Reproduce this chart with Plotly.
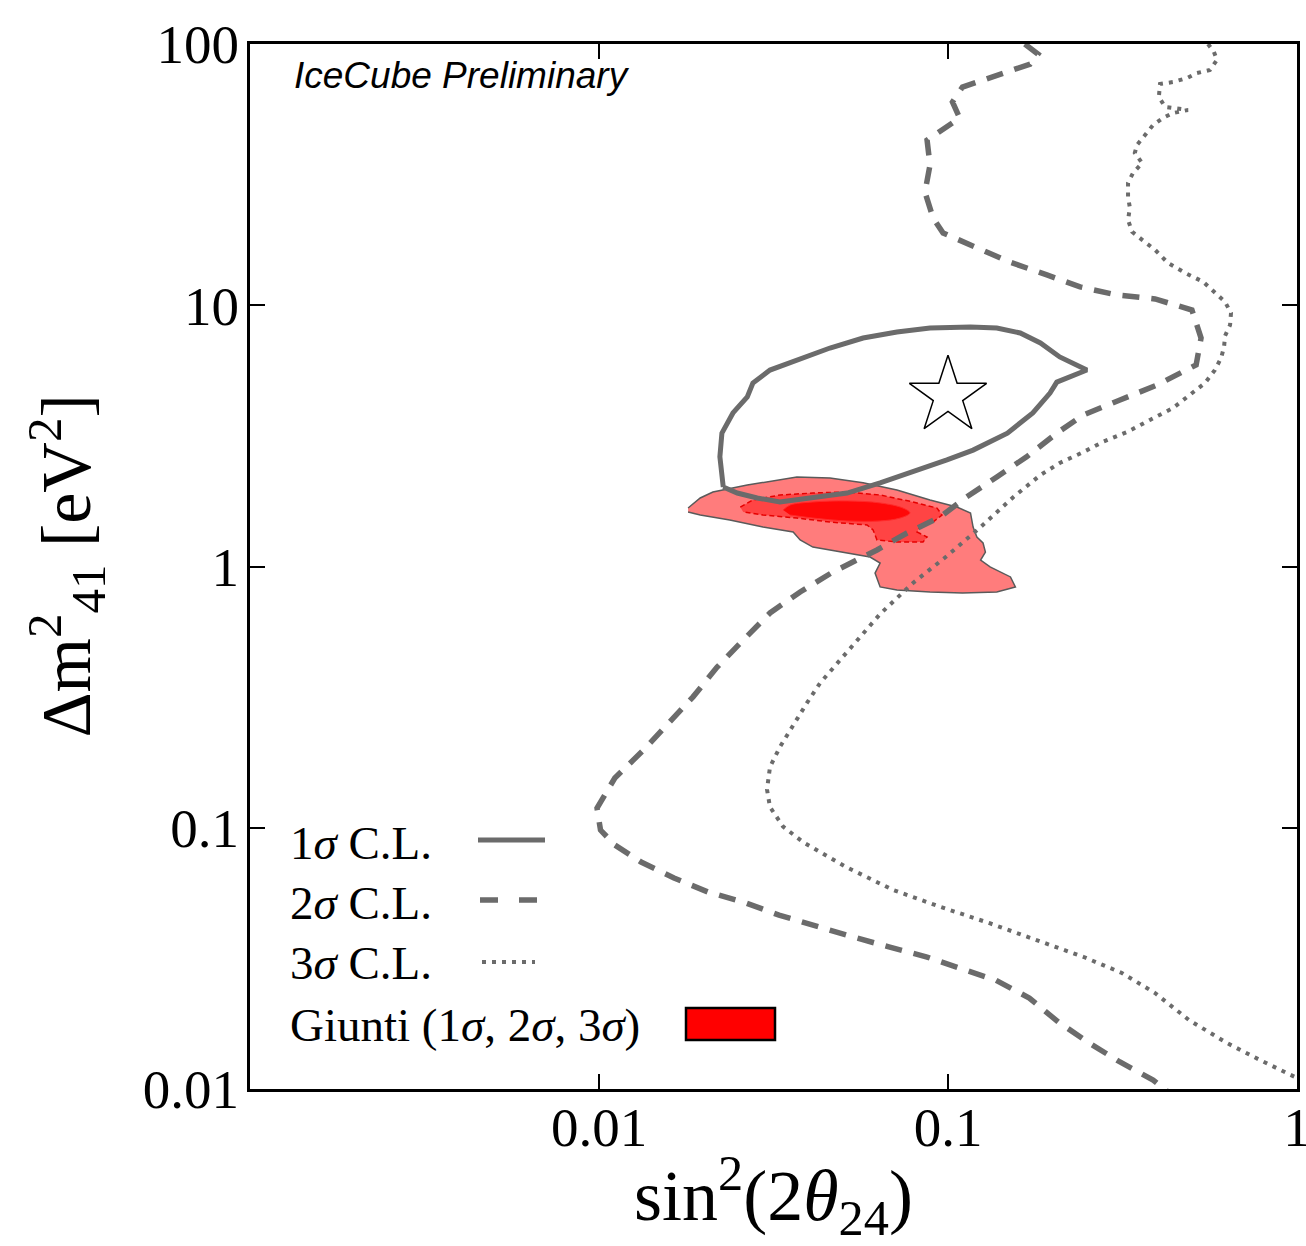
import plotly.graph_objects as go

# ---- IceCube sterile-neutrino contours: sin^2(2θ24) vs Δm^2_41 ----

# 2σ C.L. (dashed)
cl2_s2t = [0.166, 0.181, 0.172, 0.139, 0.110, 0.103, 0.108, 0.0871, 0.0888, 0.0859,
           0.0906, 0.0968, 0.121, 0.151, 0.192, 0.239, 0.305, 0.392, 0.500, 0.531,
           0.514, 0.397, 0.311, 0.244, 0.205, 0.168, 0.138, 0.113, 0.0949, 0.0763,
           0.0626, 0.0468, 0.0377, 0.0309, 0.0259, 0.0218, 0.0186, 0.0158, 0.0134, 0.0111,
           0.00987, 0.0101, 0.0111, 0.0132, 0.0164, 0.0205, 0.0264, 0.0328, 0.0421, 0.0534,
           0.0677, 0.0871, 0.108, 0.137, 0.171, 0.207, 0.254, 0.311, 0.387, 0.427]
cl2_dm2 = [100, 91.5, 83.8, 76.1, 68.4, 60.0, 52.1, 42.9, 34.4, 27.1,
           21.6, 18.9, 16.6, 14.6, 13.06, 11.75, 10.95, 10.57, 9.59, 7.49,
           5.91, 4.95, 4.34, 3.80, 3.24, 2.63, 2.20, 1.845, 1.547, 1.343,
           1.157, 0.953, 0.799, 0.664, 0.523, 0.412, 0.317, 0.252, 0.198, 0.155,
           0.119, 0.0980, 0.0859, 0.0739, 0.0642, 0.0568, 0.0515, 0.0463, 0.0417, 0.0382,
           0.0350, 0.0320, 0.0290, 0.0261, 0.0223, 0.01805, 0.0150, 0.01269, 0.01082, 0.00974]

# 3σ C.L. (dotted)
cl3_s2t = [0.556, 0.578, 0.590, 0.563, 0.517, 0.484, 0.441, 0.405, 0.402, 0.419,
           0.487, 0.441, 0.413, 0.387, 0.367, 0.348, 0.343, 0.360, 0.339, 0.328,
           0.328, 0.332, 0.328, 0.337, 0.360, 0.392, 0.427, 0.478, 0.538, 0.582,
           0.622, 0.647, 0.643, 0.622, 0.618, 0.606, 0.582, 0.545, 0.494, 0.441,
           0.379, 0.326, 0.278, 0.244, 0.209, 0.184, 0.154, 0.124, 0.0993, 0.0794,
           0.0639, 0.0534, 0.0481, 0.0430, 0.0394, 0.0360, 0.0330, 0.0309, 0.0303, 0.0309,
           0.0337, 0.0384, 0.0510, 0.0696, 0.0955, 0.131, 0.179, 0.245, 0.315, 0.392,
           0.490, 0.630, 0.783, 1.0]
cl3_dm2 = [100, 93.2, 86.9, 79.5, 77.4, 74.1, 71.5, 70.3, 62.7, 57.4,
           55.9, 54.4, 52.1, 49.0, 44.8, 41.1, 38.3, 35.0, 32.1, 29.4,
           26.0, 23.6, 21.2, 19.1, 17.8, 16.3, 14.5, 13.3, 12.3, 11.2,
           10.3, 9.34, 8.40, 7.63, 6.92, 6.28, 5.65, 5.04, 4.53, 4.04,
           3.64, 3.27, 3.00, 2.74, 2.49, 2.24, 1.845, 1.416, 1.097, 0.865,
           0.658, 0.501, 0.427, 0.358, 0.300, 0.247, 0.204, 0.171, 0.140, 0.120,
           0.101, 0.0882, 0.0708, 0.0578, 0.0497, 0.0432, 0.0372, 0.0320, 0.0278, 0.0233,
           0.01837, 0.0150, 0.01291, 0.01102]

# 1σ C.L. (solid, closed)
cl1_s2t = [0.0227, 0.0222, 0.0225, 0.0242, 0.0266, 0.0276, 0.0309, 0.0369, 0.0459, 0.0571,
           0.0714, 0.0888, 0.116, 0.138, 0.161, 0.184, 0.209, 0.250, 0.205, 0.196,
           0.175, 0.148, 0.118, 0.0993, 0.0794, 0.0639, 0.0514, 0.0410, 0.0330, 0.0284,
           0.0249, 0.0227]
cl1_dm2 = [2.015, 2.63, 3.24, 3.87, 4.46, 5.04, 5.65, 6.17, 6.86, 7.49,
           7.90, 8.18, 8.25, 8.18, 7.83, 7.17, 6.34, 5.65, 5.08, 4.61,
           3.87, 3.24, 2.79, 2.56, 2.30, 2.09, 1.911, 1.829, 1.766, 1.829,
           1.911, 2.015]

# best-fit point
best_s2t = [0.1]
best_dm2 = [4.5]

# Giunti global-fit allowed regions
g3_s2t = [0.0180, 0.0195, 0.0212, 0.0266, 0.0369, 0.0459, 0.0571, 0.0714, 0.0888, 0.106,
          0.116, 0.118, 0.121, 0.126, 0.128, 0.124, 0.132, 0.151, 0.156, 0.138,
          0.110, 0.0888, 0.0714, 0.0639, 0.0618, 0.0639, 0.0598, 0.0514, 0.0410, 0.0377,
          0.0360, 0.0295, 0.0237, 0.0195, 0.0180]
g3_dm2 = [1.674, 1.829, 1.929, 2.051, 2.20, 2.18, 2.09, 1.963, 1.797, 1.689,
          1.603, 1.416, 1.297, 1.230, 1.136, 1.059, 0.996, 0.912, 0.835, 0.799,
          0.792, 0.799, 0.813, 0.835, 0.944, 1.031, 1.087, 1.126, 1.187, 1.263,
          1.356, 1.416, 1.507, 1.574, 1.617]

g2_s2t = [0.0254, 0.0276, 0.0330, 0.0410, 0.0514, 0.0639, 0.0794, 0.0930, 0.0961, 0.0906,
          0.0831, 0.0815, 0.0871, 0.0848, 0.0714, 0.0626, 0.0610, 0.0586, 0.0459, 0.0369,
          0.0295, 0.0259]
g2_dm2 = [1.689, 1.797, 1.878, 1.911, 1.929, 1.878, 1.766, 1.674, 1.574, 1.480,
          1.416, 1.356, 1.297, 1.241, 1.241, 1.263, 1.380, 1.442, 1.480, 1.533,
          1.574, 1.617]

g1_s2t = [0.0337, 0.0353, 0.0410, 0.0514, 0.0639, 0.0743, 0.0778, 0.0729, 0.0639, 0.0514,
          0.0410, 0.0353]
g1_dm2 = [1.645, 1.719, 1.766, 1.782, 1.751, 1.674, 1.603, 1.533, 1.494, 1.494,
          1.533, 1.574]

x_ticks = [0.01, 0.1, 1]
x_ticktext = ["0.01", "0.1", "1"]
y_ticks = [0.01, 0.1, 1, 10, 100]
y_ticktext = ["0.01", "0.1", "1", "10", "100"]

GRAY = "#6b6b6b"
SERIF = "Liberation Serif"

fig = go.Figure()

# Giunti regions (3σ, 2σ, 1σ)
fig.add_trace(go.Scatter(x=g3_s2t, y=g3_dm2, mode="lines", fill="toself",
                         fillcolor="#ff7c7c", line=dict(color="#5a5a5a", width=1.5),
                         hoverinfo="skip", showlegend=False))
fig.add_trace(go.Scatter(x=g2_s2t, y=g2_dm2, mode="lines", fill="toself",
                         fillcolor="#ff4444", line=dict(color="#e60000", width=1.5, dash="5px,3px"),
                         hoverinfo="skip", showlegend=False))
fig.add_trace(go.Scatter(x=g1_s2t, y=g1_dm2, mode="lines", fill="toself",
                         fillcolor="#ff0808", line=dict(color="#ff2a2a", width=1, shape="spline"),
                         hoverinfo="skip", showlegend=False))

# IceCube contours
fig.add_trace(go.Scatter(x=cl1_s2t, y=cl1_dm2, mode="lines",
                         line=dict(color=GRAY, width=5), showlegend=False))
fig.add_trace(go.Scatter(x=cl2_s2t, y=cl2_dm2, mode="lines",
                         line=dict(color=GRAY, width=5.5, dash="17px,12px"), showlegend=False))
fig.add_trace(go.Scatter(x=cl3_s2t, y=cl3_dm2, mode="lines",
                         line=dict(color=GRAY, width=4, dash="4px,6px"), showlegend=False))

# best fit
fig.add_trace(go.Scatter(x=best_s2t, y=best_dm2, mode="markers",
                         marker=dict(symbol="star", size=58, color="white",
                                     line=dict(color="black", width=1.5)),
                         showlegend=False))

axis_common = dict(
    type="log", showgrid=False, zeroline=False,
    showline=True, linecolor="black", linewidth=3, mirror="ticks",
    ticks="inside", ticklen=15, tickwidth=1.5, tickcolor="black",
    tickfont=dict(family=SERIF, size=55, color="black"),
    ticklabeloverflow="allow", automargin=False,
)

fig.update_xaxes(range=[-3, 0], tickvals=x_ticks, ticktext=x_ticktext,
                 ticklabelstandoff=-12, **axis_common)
fig.update_yaxes(range=[-2, 2], tickvals=y_ticks, ticktext=y_ticktext,
                 ticklabelstandoff=-3, **axis_common)

W, H = 1306, 1246
L, R, T, B = 250, 9, 44, 157
pw, ph = W - L - R, H - T - B


def px(xp):
    return (xp - L) / pw


def py(yp):
    return 1 - (yp - T) / ph


annotations = [
    dict(text="sin<sup>2</sup>(2<i>θ</i><sub>24</sub>)", x=0.5, y=py(1195),
         xref="paper", yref="paper", xanchor="center", yanchor="middle",
         showarrow=False, font=dict(family=SERIF, size=72, color="black")),
    dict(text="Δm<sup>2</sup><sub>41</sub> [eV<sup>2</sup>]", x=px(66), y=0.5,
         xref="paper", yref="paper", xanchor="center", yanchor="middle", textangle=-90,
         showarrow=False, font=dict(family=SERIF, size=70, color="black")),
    dict(text="<i>IceCube Preliminary</i>", x=px(292), y=py(75),
         xref="paper", yref="paper", xanchor="left", yanchor="middle",
         showarrow=False, font=dict(family="Liberation Sans", size=37, color="black")),
]

legend_rows = [
    ("1<i>σ</i> C.L.", 843),
    ("2<i>σ</i> C.L.", 903),
    ("3<i>σ</i> C.L.", 963),
    ("Giunti (1<i>σ</i>, 2<i>σ</i>, 3<i>σ</i>)", 1025),
]
for txt, yp in legend_rows:
    annotations.append(dict(text=txt, x=px(288), y=py(yp), xref="paper", yref="paper",
                            xanchor="left", yanchor="middle", showarrow=False,
                            font=dict(family=SERIF, size=47, color="black")))

shapes = [
    dict(type="line", xref="paper", yref="paper", x0=px(478), x1=px(545), y0=py(840), y1=py(840),
         line=dict(color=GRAY, width=5)),
    dict(type="line", xref="paper", yref="paper", x0=px(480), x1=px(540), y0=py(900), y1=py(900),
         line=dict(color=GRAY, width=5.5, dash="18px,21px")),
    dict(type="line", xref="paper", yref="paper", x0=px(482), x1=px(535), y0=py(962), y1=py(962),
         line=dict(color=GRAY, width=4, dash="4px,6px")),
    dict(type="rect", xref="paper", yref="paper", x0=px(686), x1=px(775), y0=py(1040), y1=py(1008),
         fillcolor="#ff0000", line=dict(color="black", width=2.5)),
]

fig.update_layout(
    width=W, height=H,
    margin=dict(l=L, r=R, t=T, b=B),
    paper_bgcolor="white", plot_bgcolor="white",
    showlegend=False,
    annotations=annotations,
    shapes=shapes,
)

fig.write_html("out.html")
